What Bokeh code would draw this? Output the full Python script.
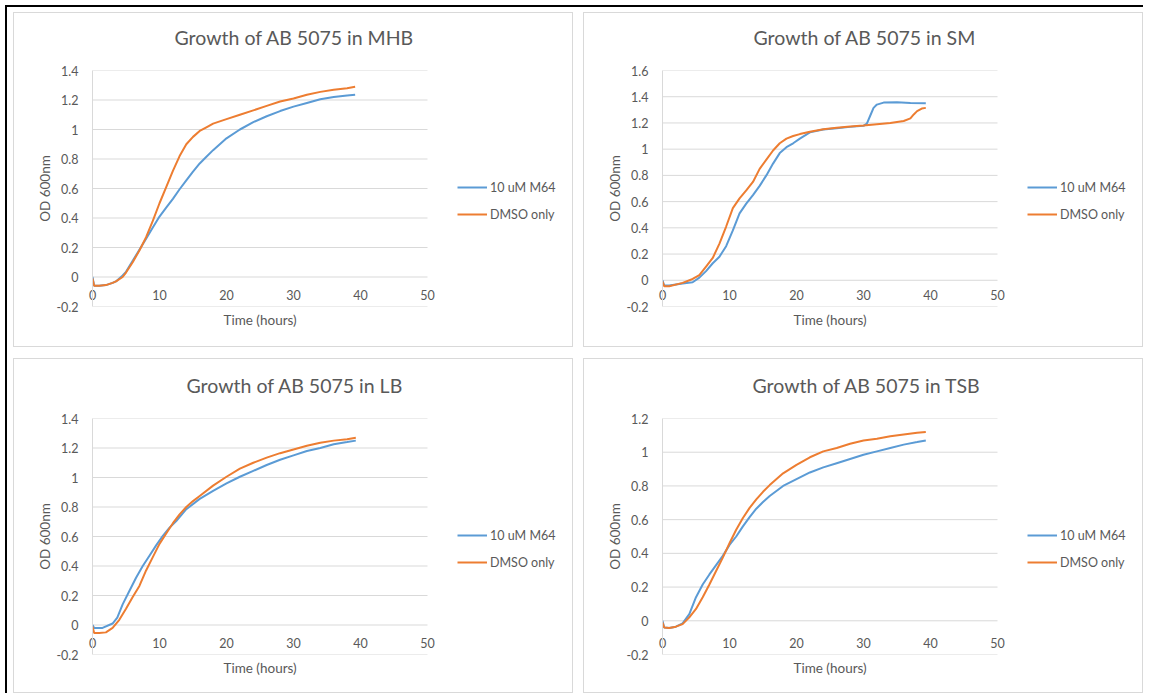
from bokeh.plotting import figure
from bokeh.models import Legend, LegendItem, FixedTicker, Range1d, Title
from bokeh.layouts import row, column
from bokeh.embed import file_html
from bokeh.resources import INLINE

FONT = "Lato"
TEXT = "#595959"
GRID = "#d9d9d9"
BLUE = "#5b9bd5"
ORANGE = "#ed7d31"

series_labels = ["10 uM M64", "DMSO only"]
x_ticks = [0, 10, 20, 30, 40, 50]
x_title = "Time (hours)"
y_title = "OD 600nm"

# ---- MHB ----
mhb_title = "Growth of AB 5075 in MHB"
mhb_y_ticks = [-0.2, 0, 0.2, 0.4, 0.6, 0.8, 1, 1.2, 1.4]
mhb_y_labels = ["-0.2", "0", "0.2", "0.4", "0.6", "0.8", "1", "1.2", "1.4"]
mhb_time = [0, 0.25, 1, 2, 3, 3.5, 4.5, 5, 6, 7, 8, 9, 10, 11, 12, 13, 14, 15, 16, 17, 18,
            20, 22, 24, 26, 28, 30, 32, 34, 36, 38, 39.2]
mhb_m64 = [0.0, -0.06, -0.06, -0.055, -0.04, -0.03, 0.01, 0.035, 0.11, 0.185, 0.26, 0.335,
           0.41, 0.47, 0.53, 0.595, 0.655, 0.715, 0.77, 0.815, 0.86, 0.94, 1.0, 1.05, 1.09,
           1.125, 1.155, 1.18, 1.205, 1.22, 1.23, 1.235]
mhb_dmso = [-0.01, -0.06, -0.06, -0.055, -0.04, -0.03, 0.0, 0.03, 0.10, 0.18, 0.27, 0.38,
            0.50, 0.61, 0.72, 0.82, 0.90, 0.95, 0.99, 1.015, 1.04, 1.07, 1.10, 1.13, 1.16,
            1.19, 1.21, 1.235, 1.255, 1.27, 1.28, 1.29]

# ---- SM ----
sm_title = "Growth of AB 5075 in SM"
sm_y_ticks = [-0.2, 0, 0.2, 0.4, 0.6, 0.8, 1, 1.2, 1.4, 1.6]
sm_y_labels = ["-0.2", "0", "0.2", "0.4", "0.6", "0.8", "1", "1.2", "1.4", "1.6"]
sm_time_m64 = [0, 0.25, 1, 3, 4.5, 5.5, 6.5, 7.5, 8.5, 9.5, 10.5, 11.5, 12.5, 13.5, 14.5,
               15.5, 16.5, 17.5, 18.5, 19.5, 20.5, 22, 24, 26, 28, 30, 30.5, 31, 31.5, 32,
               33, 35, 37, 39.3]
sm_m64 = [0.0, -0.04, -0.04, -0.025, -0.015, 0.02, 0.07, 0.13, 0.18, 0.26, 0.38, 0.51,
          0.585, 0.65, 0.72, 0.80, 0.89, 0.97, 1.015, 1.045, 1.08, 1.128, 1.15, 1.16, 1.17,
          1.178, 1.195, 1.255, 1.315, 1.34, 1.355, 1.358, 1.352, 1.35]
sm_time_dmso = [0, 0.25, 1, 3, 4.5, 5.5, 6.5, 7.5, 8.5, 9.5, 10.5, 11.5, 12.5, 13.5, 14.5,
                15.5, 16.5, 17.5, 18.5, 19.5, 20.5, 22, 24, 26, 28, 30, 32, 34, 36, 37,
                37.5, 38, 38.7, 39.3]
sm_dmso = [-0.01, -0.045, -0.045, -0.02, 0.01, 0.04, 0.105, 0.17, 0.28, 0.41, 0.55, 0.625,
           0.685, 0.75, 0.85, 0.92, 0.99, 1.045, 1.08, 1.10, 1.115, 1.133, 1.152, 1.163,
           1.172, 1.18, 1.19, 1.20, 1.215, 1.235, 1.265, 1.29, 1.31, 1.315]

# ---- LB ----
lb_title = "Growth of AB 5075 in LB"
lb_y_ticks = [-0.2, 0, 0.2, 0.4, 0.6, 0.8, 1, 1.2, 1.4]
lb_y_labels = ["-0.2", "0", "0.2", "0.4", "0.6", "0.8", "1", "1.2", "1.4"]
lb_time_m64 = [0, 0.25, 1.5, 3, 3.7, 4.5, 5.5, 6.5, 7.5, 8.5, 9.5, 10.5, 11.5, 12.5, 14,
               16, 18, 20, 22, 24, 26, 28, 30, 32, 34, 36, 38, 39.3]
lb_m64 = [0.0, -0.02, -0.02, 0.01, 0.05, 0.14, 0.23, 0.32, 0.40, 0.47, 0.54, 0.605, 0.66,
          0.705, 0.785, 0.855, 0.91, 0.96, 1.005, 1.045, 1.085, 1.12, 1.15, 1.18, 1.20,
          1.225, 1.24, 1.25]
lb_time_dmso = [0, 0.25, 1, 2, 3, 4, 5, 6, 7, 8, 9, 10, 11, 12, 13, 14, 15, 16, 18, 20, 22,
                24, 26, 28, 30, 32, 34, 36, 38, 39.3]
lb_dmso = [-0.01, -0.055, -0.055, -0.05, -0.02, 0.035, 0.11, 0.19, 0.265, 0.37, 0.46, 0.55,
           0.62, 0.69, 0.75, 0.80, 0.84, 0.875, 0.945, 1.005, 1.06, 1.10, 1.135, 1.165,
           1.19, 1.215, 1.235, 1.25, 1.26, 1.27]

# ---- TSB ----
tsb_title = "Growth of AB 5075 in TSB"
tsb_y_ticks = [-0.2, 0, 0.2, 0.4, 0.6, 0.8, 1, 1.2]
tsb_y_labels = ["-0.2", "0", "0.2", "0.4", "0.6", "0.8", "1", "1.2"]
tsb_time = [0, 0.25, 1, 2, 3, 4, 5, 6, 7, 8, 9, 10, 11, 12, 13, 14, 15, 16, 18, 20, 22, 24,
            26, 28, 30, 32, 34, 36, 38, 39.3]
tsb_m64 = [0.0, -0.04, -0.043, -0.035, -0.015, 0.04, 0.14, 0.215, 0.275, 0.33, 0.385, 0.45,
           0.50, 0.56, 0.615, 0.665, 0.705, 0.74, 0.80, 0.84, 0.88, 0.91, 0.935, 0.96,
           0.985, 1.005, 1.025, 1.045, 1.06, 1.07]
tsb_dmso = [-0.01, -0.04, -0.043, -0.035, -0.02, 0.02, 0.07, 0.14, 0.215, 0.295, 0.375,
            0.46, 0.54, 0.61, 0.67, 0.72, 0.765, 0.805, 0.875, 0.925, 0.97, 1.005, 1.025,
            1.05, 1.07, 1.08, 1.095, 1.105, 1.115, 1.12]

CANVAS_W = 560
CANVAS_H = 335
FRAME_H = 237
LEFT = 78
RIGHT = 5
PLOT_W = 335                      # pixels spanned by 0..50 hours
FRAME_W = CANVAS_W - LEFT - RIGHT  # frame also holds the legend area
X_END = x_ticks[-1] * FRAME_W / PLOT_W


def make_panel(title, title_offset, y_ticks, y_labels, t1, v1, t2, v2, top):
    p = figure(width=CANVAS_W, height=CANVAS_H,
               min_border_left=LEFT, min_border_right=RIGHT,
               min_border_top=top, min_border_bottom=CANVAS_H - top - FRAME_H,
               x_range=Range1d(0, X_END), y_range=Range1d(y_ticks[0], y_ticks[-1]),
               output_backend="svg", toolbar_location=None, tools="",
               styles={"border": "1px solid #d9d9d9"})
    p.outline_line_color = None
    p.background_fill_color = "white"
    p.border_fill_color = "white"
    p.title.text = ""

    # blank gap between frame and title, then the title itself
    p.add_layout(Title(text=" ", text_font_size="1px", standoff=19), "above")
    p.add_layout(Title(text=title, align="left", offset=title_offset, standoff=0,
                       text_font=FONT, text_font_size="19.5px", text_font_style="normal",
                       text_color=TEXT), "above")

    p.xgrid.visible = False
    p.ygrid.visible = False
    # horizontal gridlines spanning the 0..50 axis only
    p.segment(x0=x_ticks[0], x1=x_ticks[-1], y0=y_ticks, y1=y_ticks,
              line_color=GRID, line_width=1)

    xa = p.xaxis[0]
    xa.ticker = FixedTicker(ticks=x_ticks)
    xa.axis_line_color = None
    xa.major_tick_line_color = None
    xa.minor_tick_line_color = None
    xa.major_tick_out = 0
    xa.major_tick_in = 0
    xa.major_label_standoff = -17
    xa.major_label_text_font = FONT
    xa.major_label_text_font_size = "12.5px"
    xa.major_label_text_color = TEXT

    p.add_layout(Title(text=x_title, align="left", offset=131, standoff=10,
                       vertical_align="top",
                       text_font=FONT, text_font_size="13.5px", text_font_style="normal",
                       text_color=TEXT), "below")

    ya = p.yaxis[0]
    ya.ticker = FixedTicker(ticks=y_ticks)
    ya.major_label_overrides = {t: l for t, l in zip(y_ticks, y_labels)}
    ya.axis_line_color = GRID
    ya.major_tick_line_color = None
    ya.minor_tick_line_color = None
    ya.major_tick_out = 0
    ya.major_tick_in = 0
    ya.major_label_standoff = 14
    ya.major_label_text_font = FONT
    ya.major_label_text_font_size = "12.5px"
    ya.major_label_text_color = TEXT
    ya.axis_label = y_title
    ya.axis_label_text_font = FONT
    ya.axis_label_text_font_size = "13.5px"
    ya.axis_label_text_font_style = "normal"
    ya.axis_label_text_color = TEXT
    ya.axis_label_standoff = 0

    r1 = p.line(t1, v1, line_color=BLUE, line_width=2)
    r2 = p.line(t2, v2, line_color=ORANGE, line_width=2)

    legend = Legend(items=[LegendItem(label=series_labels[0], renderers=[r1]),
                           LegendItem(label=series_labels[1], renderers=[r2])],
                    location=(365, 82), glyph_width=30, glyph_height=20,
                    label_height=20, spacing=7, padding=0, margin=0,
                    border_line_color=None, background_fill_alpha=0,
                    label_text_font=FONT, label_text_font_size="12.5px",
                    label_text_color=TEXT, label_standoff=3)
    p.add_layout(legend)
    return p


p1 = make_panel(mhb_title, 82, mhb_y_ticks, mhb_y_labels, mhb_time, mhb_m64, mhb_time, mhb_dmso, 57)
p2 = make_panel(sm_title, 91, sm_y_ticks, sm_y_labels, sm_time_m64, sm_m64, sm_time_dmso, sm_dmso, 56)
p3 = make_panel(lb_title, 94, lb_y_ticks, lb_y_labels, lb_time_m64, lb_m64, lb_time_dmso, lb_dmso, 59)
p4 = make_panel(tsb_title, 90, tsb_y_ticks, tsb_y_labels, tsb_time, tsb_m64, tsb_time, tsb_dmso, 58)

layout = column(row(p1, p2, spacing=10), row(p3, p4, spacing=10), spacing=11,
                styles={"margin": "5px 0px 0px 5px",
                        "border-top": "2px solid black", "border-left": "2px solid black",
                        "padding": "5px 0px 0px 6px"})

open("out.html", "w").write(file_html(layout, INLINE))
